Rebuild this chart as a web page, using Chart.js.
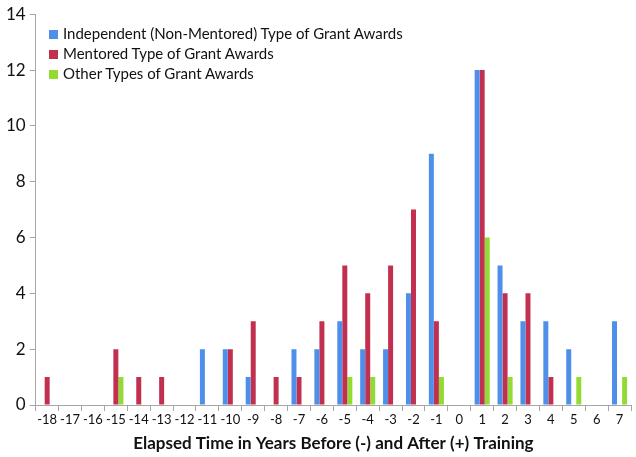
<!DOCTYPE html>
<html>
<head>
<meta charset="utf-8">
<script src="https://cdn.jsdelivr.net/npm/chart.js@4.4.0/dist/chart.umd.min.js"></script>
<style>
  html, body { margin: 0; padding: 0; background: #fff; }
  #wrap { position: relative; width: 636px; height: 457px; }
  #legend { position: absolute; left: 49px; top: 23px; font-family: Lato, "Open Sans", sans-serif; font-size: 15px; color: #111; }
  #legend div { height: 20px; line-height: 20px; white-space: nowrap; }
  #legend span { display: inline-block; width: 9px; height: 9px; margin-right: 5px; vertical-align: 0px; }
</style>
</head>
<body>
<div id="wrap">
  <canvas id="chart" width="636" height="457"></canvas>
  <div id="legend"></div>
</div>
<script>
// years relative to training
const years = ['-18', '-17', '-16', '-15', '-14', '-13', '-12', '-11', '-10', '-9', '-8', '-7', '-6',
               '-5', '-4', '-3', '-2', '-1', '0', '1', '2', '3', '4', '5', '6', '7'];
const independent = [0, 0, 0, 0, 0, 0, 0, 2, 2, 1, 0, 2, 2, 3, 2, 2, 4, 9, 0, 12, 5, 3, 3, 2, 0, 3];
const mentored    = [1, 0, 0, 2, 1, 1, 0, 0, 2, 3, 1, 1, 3, 5, 4, 5, 7, 3, 0, 12, 4, 4, 1, 0, 0, 0];
const other       = [0, 0, 0, 1, 0, 0, 0, 0, 0, 0, 0, 0, 0, 1, 1, 0, 0, 1, 0, 6, 1, 0, 0, 1, 0, 1];
const yTicks = [0, 2, 4, 6, 8, 10, 12, 14];

const seriesNames = ['Independent (Non-Mentored) Type of Grant Awards', 'Mentored Type of Grant Awards', 'Other Types of Grant Awards'];
const seriesColors = ['#4f8fea', '#c1304f', '#93da35'];

const axisGray = '#a6a6a6';
const font = 'Lato, "Open Sans", sans-serif';

let datasets = [independent, mentored, other].map((vals, i) => ({
    label: seriesNames[i],
    data: vals,
    backgroundColor: seriesColors[i],
    barPercentage: 0.99,
    categoryPercentage: 0.66
}));

new Chart(document.getElementById('chart'), {
    type: 'bar',
    data: { labels: years, datasets: datasets },
    options: {
        responsive: false,
        animation: false,
        layout: { padding: { top: 3, right: 5, left: 2, bottom: 0 } },
        plugins: { legend: { display: false }, tooltip: { enabled: false } },
        scales: {
            x: {
                grid: { offset: true, drawOnChartArea: false, color: axisGray, tickLength: 6 },
                border: { color: axisGray },
                ticks: { autoSkip: false, maxRotation: 0, padding: 1, color: '#111', font: { family: font, size: 13 } },
                title: { display: true, text: 'Elapsed Time in Years Before (-) and After (+) Training', color: '#111',
                         font: { family: font, size: 17, weight: 'bold' }, padding: { top: 5, bottom: 3 } }
            },
            y: {
                min: 0, max: 14,
                afterBuildTicks: axis => { axis.ticks = yTicks.map(v => ({ value: v })); },
                grid: { drawOnChartArea: false, color: axisGray, tickLength: 6 },
                border: { color: axisGray },
                ticks: { padding: 4, color: '#111', font: { family: font, size: 17 } }
            }
        }
    }
});

// legend in the top-left of the plot
let legend = document.getElementById('legend');
seriesNames.forEach((name, i) => {
    let row = document.createElement('div');
    let box = document.createElement('span');
    box.style.background = seriesColors[i];
    row.appendChild(box);
    row.appendChild(document.createTextNode(name));
    legend.appendChild(row);
});
</script>
</body>
</html>
